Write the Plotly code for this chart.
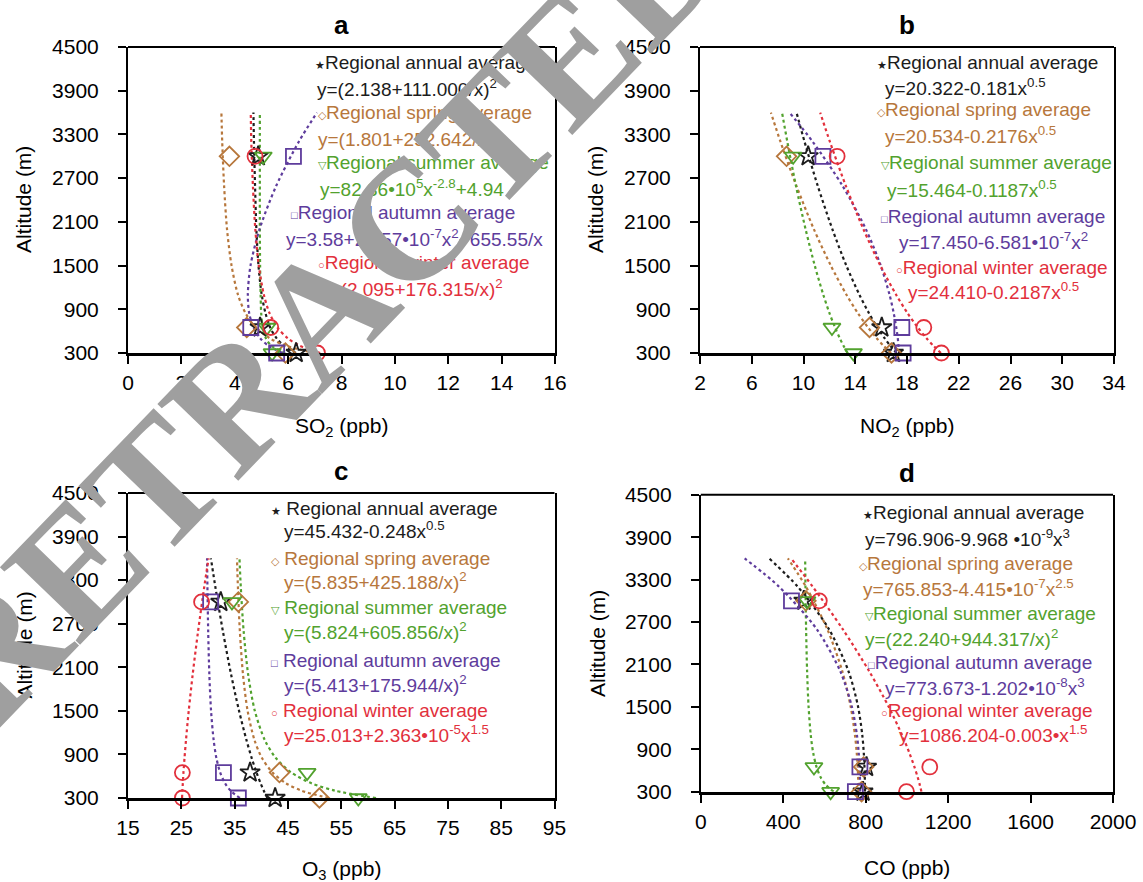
import plotly.graph_objects as go

W, H = 1143, 882

# ---------------- data ----------------
# altitude levels (m) of the observations
obs_alt = [300, 650, 3000]
# altitude grid (m) on which the fitted profiles are drawn
fit_alt = [300, 400, 500, 650, 850, 1100, 1500, 2000, 2600, 3200, 3600]

seasons = ["annual", "spring", "summer", "autumn", "winter"]

# SO2 (ppb)
so2_obs = {
    "annual": [6.3, 4.95, 4.88],
    "spring": [5.9, 4.45, 3.8],
    "summer": [5.4, 5.2, 5.07],
    "autumn": [5.57, 4.6, 6.2],
    "winter": [7.1, 5.35, 4.76],
}
so2_fit = {
    "annual": [6.29, 5.84, 5.57, 5.33, 5.15, 5.01, 4.89, 4.81, 4.76, 4.72, 4.70],
    "spring": [6.99, 5.92, 5.32, 4.80, 4.40, 4.12, 3.88, 3.71, 3.60, 3.53, 3.50],
    "summer": [5.89, 5.37, 5.17, 5.05, 4.99, 4.97, 4.95, 4.94, 4.94, 4.94, 4.94],
    "autumn": [5.79, 5.26, 4.96, 4.70, 4.54, 4.49, 4.59, 4.93, 5.56, 6.40, 7.08],
    "winter": [7.20, 6.43, 5.99, 5.60, 5.30, 5.09, 4.90, 4.77, 4.68, 4.62, 4.60],
}

# NO2 (ppb)
no2_obs = {
    "annual": [16.95, 16.05, 10.36],
    "spring": [16.8, 15.1, 8.69],
    "summer": [13.86, 12.2, 9.2],
    "autumn": [17.7, 17.6, 11.5],
    "winter": [20.66, 19.3, 12.6],
}
no2_fit = {
    "annual": [17.19, 16.70, 16.28, 15.71, 15.05, 14.32, 13.31, 12.23, 11.09, 10.08, 9.46],
    "spring": [16.77, 16.18, 15.67, 14.99, 14.19, 13.32, 12.11, 10.80, 9.44, 8.22, 7.48],
    "summer": [13.41, 13.09, 12.81, 12.44, 12.00, 11.53, 10.87, 10.16, 9.41, 8.75, 8.34],
    "autumn": [17.39, 17.34, 17.29, 17.17, 16.97, 16.65, 15.97, 14.82, 13.00, 10.71, 8.92],
    "winter": [20.62, 20.04, 19.52, 18.83, 18.03, 17.16, 15.94, 14.63, 13.26, 12.04, 11.29],
}

# O3 (ppb)
o3_obs = {
    "annual": [42.6, 37.9, 32.4],
    "spring": [50.9, 43.4, 35.7],
    "summer": [58.2, 48.6, 34.5],
    "autumn": [35.7, 32.9, 30.5],
    "winter": [25.2, 25.2, 28.8],
}
o3_fit = {
    "annual": [41.14, 40.47, 39.89, 39.11, 38.20, 37.21, 35.83, 34.34, 32.79, 31.40, 30.55],
    "spring": [52.60, 47.58, 44.69, 42.11, 40.13, 38.71, 37.44, 36.57, 35.98, 35.62, 35.44],
    "summer": [61.52, 53.86, 49.50, 45.64, 42.73, 40.64, 38.79, 37.54, 36.69, 36.16, 35.91],
    "autumn": [35.99, 34.26, 33.23, 32.30, 31.58, 31.06, 30.58, 30.26, 30.04, 29.90, 29.83],
    "winter": [25.14, 25.20, 25.28, 25.40, 25.60, 25.88, 26.39, 27.13, 28.15, 29.29, 30.12],
}

# CO (ppb)
co_obs = {
    "annual": [787, 804, 500],
    "spring": [780, 790, 510],
    "summer": [630, 549, 515],
    "autumn": [750, 772, 440],
    "winter": [998, 1111, 575],
}
co_fit = {
    "annual": [796.6, 796.3, 795.7, 794.2, 790.8, 783.6, 763.3, 717.2, 621.7, 470.3, 331.8],
    "spring": [765.2, 764.4, 763.4, 761.1, 756.6, 748.1, 727.4, 686.9, 613.7, 510.1, 422.5],
    "summer": [644.5, 605.2, 582.2, 561.4, 545.3, 533.5, 523.0, 515.8, 510.9, 507.8, 506.4],
    "autumn": [773.4, 772.9, 772.2, 770.4, 766.3, 757.7, 733.1, 677.5, 562.4, 379.8, 212.9],
    "winter": [1070.6, 1062.2, 1052.7, 1036.5, 1011.9, 976.7, 911.9, 817.9, 688.5, 543.1, 438.2],
}

altitude_ticks = [300, 900, 1500, 2100, 2700, 3300, 3900, 4500]

# fitted equations shown next to each season name
so2_eq = ["y=(2.138+111.000/x)<sup>2</sup>",
          "y=(1.801+252.642/x)<sup>2</sup>",
          "y=82.36•10<sup>5</sup>x<sup>-2.8</sup>+4.94",
          "y=3.58+2.557•10<sup>-7</sup>x<sup>2</sup>+655.55/x",
          "y=(2.095+176.315/x)<sup>2</sup>"]
no2_eq = ["y=20.322-0.181x<sup>0.5</sup>",
          "y=20.534-0.2176x<sup>0.5</sup>",
          "y=15.464-0.1187x<sup>0.5</sup>",
          "y=17.450-6.581•10<sup>-7</sup>x<sup>2</sup>",
          "y=24.410-0.2187x<sup>0.5</sup>"]
o3_eq = ["y=45.432-0.248x<sup>0.5</sup>",
         "y=(5.835+425.188/x)<sup>2</sup>",
         "y=(5.824+605.856/x)<sup>2</sup>",
         "y=(5.413+175.944/x)<sup>2</sup>",
         "y=25.013+2.363•10<sup>-5</sup>x<sup>1.5</sup>"]
co_eq = ["y=796.906-9.968 •10<sup>-9</sup>x<sup>3</sup>",
         "y=765.853-4.415•10<sup>-7</sup>x<sup>2.5</sup>",
         "y=(22.240+944.317/x)<sup>2</sup>",
         "y=773.673-1.202•10<sup>-8</sup>x<sup>3</sup>",
         "y=1086.204-0.003•x<sup>1.5</sup>"]

# ---------------- styling ----------------
COLORS = {"annual": "#1c1c1c", "spring": "#b7773c", "summer": "#52a22e",
          "autumn": "#5e3c9c", "winter": "#e2303c"}
SYMBOLS = {"annual": "star-open", "spring": "diamond-open", "summer": "triangle-down-open",
           "autumn": "square-open", "winter": "circle-open"}
GLYPHS = {"annual": "★", "spring": "◇", "summer": "▽", "autumn": "□", "winter": "○"}
FONT = "Arial, 'Liberation Sans', Helvetica, sans-serif"


def px(x):
    return x / W


def py(y):
    return 1 - y / H


panels = [
    # name, obs, fit, equations, x-range, dtick, x-title, x-domain(px), y-domain(px top,bottom), x-title y(px)
    ("a", so2_obs, so2_fit, so2_eq, [0, 16], 2, "SO<sub>2</sub> (ppb)", (128, 555), (47, 353), 427),
    ("b", no2_obs, no2_fit, no2_eq, [2, 34], 4, "NO<sub>2</sub> (ppb)", (700, 1114), (47, 353), 427),
    ("c", o3_obs, o3_fit, o3_eq, [15, 95], 10, "O<sub>3</sub> (ppb)", (128, 554.5), (493, 798), 870),
    ("d", co_obs, co_fit, co_eq, [0, 2000], 400, "CO (ppb)", (700.8, 1113), (494.8, 791.7), 867),
]

# legend text placement inside each panel (left edge px, vertical centre px)
legend_pos = {
    "a": ([313, 315, 316, 316, 316, 318, 289, 284, 316, 318],
          [63, 88, 113, 138, 163, 188, 213, 238, 263, 288]),
    "b": ([875, 883, 875, 883, 879, 885, 879, 897, 894, 906],
          [63, 87, 110, 135, 163, 189, 216, 241, 267, 291]),
    "c": ([269, 282, 269, 282, 269, 282, 269, 282, 269, 282],
          [508, 530, 558, 581, 607, 631, 660, 684, 710, 734]),
    "d": ([861, 863, 857, 861, 863, 863, 866, 883, 879, 897],
          [512, 538, 563, 588, 613, 638, 662, 687, 710, 734]),
}

fig = go.Figure()
annotations = []
shapes = []


def text_note(text, x, y, size, color="black", xanchor="center", angle=0, family=FONT):
    return dict(text=text, x=px(x), y=py(y), xref="paper", yref="paper", showarrow=False,
                xanchor=xanchor, yanchor="middle", textangle=angle,
                font=dict(family=family, size=size, color=color))


for i, (name, obs, fit, eqs, xr, dt, xtitle, xd, yd, xt_y) in enumerate(panels):
    k = "" if i == 0 else str(i + 1)
    xa, ya = "x" + k, "y" + k
    for s in seasons:
        fig.add_trace(go.Scatter(
            x=fit[s], y=fit_alt, xaxis=xa, yaxis=ya, mode="lines",
            line=dict(color=COLORS[s], width=2.2, dash="dot", shape="spline", smoothing=0.8),
            showlegend=False, hoverinfo="skip", cliponaxis=False))
    for s in seasons:
        fig.add_trace(go.Scatter(
            x=obs[s], y=obs_alt, xaxis=xa, yaxis=ya, mode="markers",
            marker=dict(symbol=SYMBOLS[s], size=15, color=COLORS[s],
                        line=dict(width=1.8, color=COLORS[s])),
            showlegend=False, cliponaxis=False))

    axis_common = dict(ticks="outside", ticklen=8, tickwidth=1.6, tickcolor="black",
                       showgrid=False, zeroline=False, automargin=False,
                       tickfont=dict(family=FONT, size=21, color="black"))
    fig.update_layout(**{
        "xaxis" + k: dict(domain=[px(xd[0]), px(xd[1])], range=xr, dtick=dt, tick0=xr[0],
                          showline=True, linewidth=3, linecolor="black", mirror=False,
                          anchor=ya, ticklabelstandoff=1, **axis_common),
        "yaxis" + k: dict(domain=[py(yd[1]), py(yd[0])], range=[300, 4500],
                          tickvals=altitude_ticks, showline=True, linewidth=2,
                          linecolor="black", mirror=True, anchor=xa,
                          ticklabelstandoff=15, **axis_common),
    })
    # top edge of the frame
    shapes.append(dict(type="line", xref=xa + " domain", yref=ya + " domain",
                       x0=0, x1=1, y0=1, y1=1, line=dict(color="black", width=2)))

    cx = (xd[0] + xd[1]) / 2
    cy = (yd[0] + yd[1]) / 2
    annotations.append(text_note("<b>%s</b>" % name, cx, yd[0] - 22, 26))
    annotations.append(text_note(xtitle, cx, xt_y, 21))
    annotations.append(text_note("Altitude (m)", xd[0] - 104, cy, 21, angle=-90))

    # season labels and fitted equations
    lx, ly = legend_pos[name]
    sep = " " if name == "c" else ""
    for j, s in enumerate(seasons):
        label = ('<span style="font-size:11px">%s</span>%sRegional %s average'
                 % (GLYPHS[s], sep, s))
        for t, text in enumerate([label, eqs[j]]):
            n = 2 * j + t
            annotations.append(text_note(text, lx[n], ly[n], 19, COLORS[s], xanchor="left"))

# diagonal stamp across the left half
annotations.append(dict(text="RETRACTED", x=px(322), y=py(312), xref="paper", yref="paper",
                        showarrow=False, textangle=-46, xanchor="center", yanchor="middle",
                        font=dict(family="'Liberation Serif', 'Times New Roman', serif",
                                  size=170, color="#9f9f9f", weight="bold")))

fig.update_layout(width=W, height=H, margin=dict(l=0, r=0, t=0, b=0, autoexpand=False),
                  paper_bgcolor="white", plot_bgcolor="white",
                  annotations=annotations, shapes=shapes, showlegend=False)

fig.write_html("out.html")
